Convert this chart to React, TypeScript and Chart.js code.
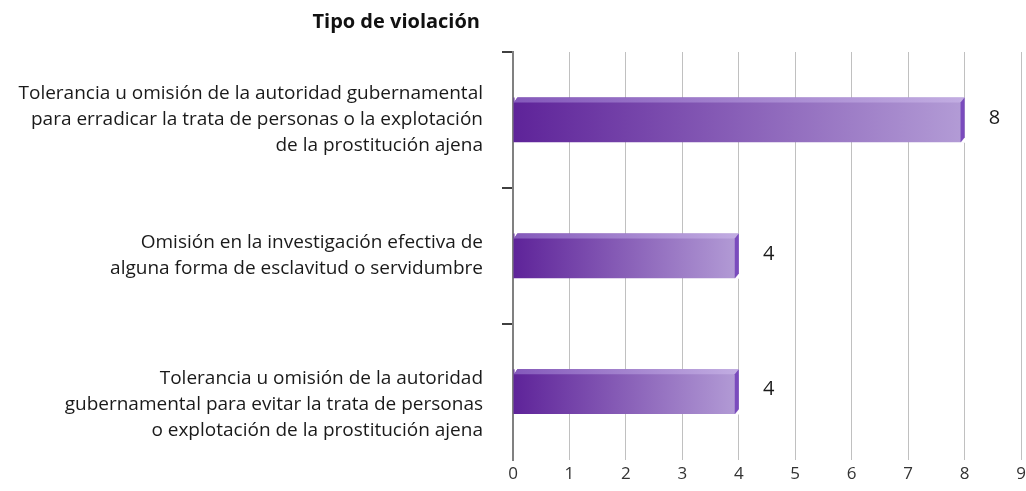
import { useEffect, useRef } from "react";
import { Chart, registerables } from "chart.js";

Chart.register(...registerables);

const chartTitle = "Tipo de violación";
const categories: string[][] = [
  [
    "Tolerancia u omisión de la autoridad gubernamental",
    "para erradicar la trata de personas o la explotación",
    "de la prostitución ajena",
  ],
  ["Omisión en la investigación efectiva de", "alguna forma de esclavitud o servidumbre"],
  [
    "",
    "Tolerancia u omisión de la autoridad",
    "gubernamental para evitar la trata de personas",
    "o explotación de la prostitución ajena",
  ],
];
const values = [8, 4, 4];
const xMin = 0;
const xMax = 9;

const FONT = "'Open Sans', 'Noto Sans', sans-serif";

const titlePlugin = {
  id: "leftTitle",
  afterDraw(chart: any) {
    const ctx = chart.ctx;
    ctx.save();
    ctx.font = `bold 20px ${FONT}`;
    ctx.fillStyle = "#111111";
    ctx.textAlign = "right";
    ctx.textBaseline = "middle";
    ctx.fillText(chartTitle, 480, 22);
    ctx.restore();
  },
};

const bevelPlugin = {
  id: "bevel",
  afterDatasetsDraw(chart: any) {
    const ctx = chart.ctx;
    const meta = chart.getDatasetMeta(0);
    meta.data.forEach((el: any, i: number) => {
      const { x, y, base, height } = el.getProps(["x", "y", "base", "height"], true);
      const top = y - height / 2;
      const bottom = y + height / 2;
      const dx = 4;
      const dy = 5;
      const fx = x - dx;
      ctx.save();
      ctx.fillStyle = "#ffffff";
      ctx.beginPath();
      ctx.moveTo(base + 1, top - 0.5);
      ctx.lineTo(base + dx, top - 0.5);
      ctx.lineTo(base + 1, top + dy);
      ctx.closePath();
      ctx.fill();
      ctx.beginPath();
      ctx.moveTo(fx, bottom + 0.5);
      ctx.lineTo(x + 0.5, bottom + 0.5);
      ctx.lineTo(x + 0.5, bottom - dy);
      ctx.closePath();
      ctx.fill();
      // top face
      const gt = ctx.createLinearGradient(base, 0, x, 0);
      gt.addColorStop(0, "#8459bb");
      gt.addColorStop(1, "#c2ade2");
      ctx.fillStyle = gt;
      ctx.beginPath();
      ctx.moveTo(base, top + dy);
      ctx.lineTo(base + dx, top);
      ctx.lineTo(x, top);
      ctx.lineTo(fx, top + dy);
      ctx.closePath();
      ctx.fill();
      // right face
      ctx.fillStyle = "#7a4bbd";
      ctx.beginPath();
      ctx.moveTo(fx, top + dy);
      ctx.lineTo(x, top);
      ctx.lineTo(x, bottom - dy);
      ctx.lineTo(fx, bottom);
      ctx.closePath();
      ctx.fill();
      // value label
      ctx.font = `20px ${FONT}`;
      ctx.fillStyle = "#1a1a1a";
      ctx.textAlign = "center";
      ctx.textBaseline = "middle";
      ctx.fillText(String(values[i]), x + 30, y - 2);
      ctx.restore();
    });
  },
};

export default function App() {
  const ref = useRef<HTMLCanvasElement | null>(null);

  useEffect(() => {
    document.body.style.margin = "0";
    if (!ref.current) return;
    const chart = new Chart(ref.current, {
      type: "bar",
      data: {
        labels: categories,
        datasets: [
          {
            data: values,
            backgroundColor: (c: any) => {
              const ch = c.chart;
              if (!ch.chartArea || c.dataIndex === undefined) return "#7a4bb0";
              const xs = ch.scales.x;
              const x0 = xs.getPixelForValue(0);
              const x1 = xs.getPixelForValue(values[c.dataIndex]);
              const g = ch.ctx.createLinearGradient(x0, 0, x1, 0);
              g.addColorStop(0, "#5e2399");
              g.addColorStop(1, "#b39cd6");
              return g;
            },
            borderWidth: 0,
            categoryPercentage: 1,
            barPercentage: 0.33,
          },
        ],
      },
      options: {
        indexAxis: "y",
        responsive: false,
        animation: false,
        layout: { padding: { top: 52, right: 5, bottom: 3, left: 0 } },
        plugins: {
          legend: { display: false },
          tooltip: { enabled: false },
          title: { display: false },
        },
        scales: {
          x: {
            type: "linear",
            min: xMin,
            max: xMax,
            afterFit: (scale: any) => {
              scale.paddingLeft = 0;
              scale.paddingRight = 0;
            },
            ticks: {
              stepSize: 1,
              color: "#333333",
              padding: 4,
              font: { family: FONT, size: 17 },
            },
            grid: { color: "#c0c0c0", lineWidth: 1, drawTicks: false },
            border: { display: false },
          },
          y: {
            type: "category",
            afterFit: (scale: any) => {
              scale.width = 513;
              scale.paddingTop = 0;
              scale.paddingBottom = 0;
            },
            ticks: {
              color: "#1a1a1a",
              padding: 19,
              font: { family: FONT, size: 19, lineHeight: "26px" },
            },
            grid: {
              drawOnChartArea: false,
              tickLength: 11,
              lineWidth: 2,
              color: (c: any) => (c.tick ? "#404040" : "rgba(0,0,0,0)"),
            },
            border: { color: "#808080", width: 2 },
          },
        },
      },
      plugins: [titlePlugin, bevelPlugin],
    } as any);
    return () => chart.destroy();
  }, []);

  return (
    <div style={{ width: 1026, height: 491 }}>
      <canvas ref={ref} width={1026} height={491} />
    </div>
  );
}
